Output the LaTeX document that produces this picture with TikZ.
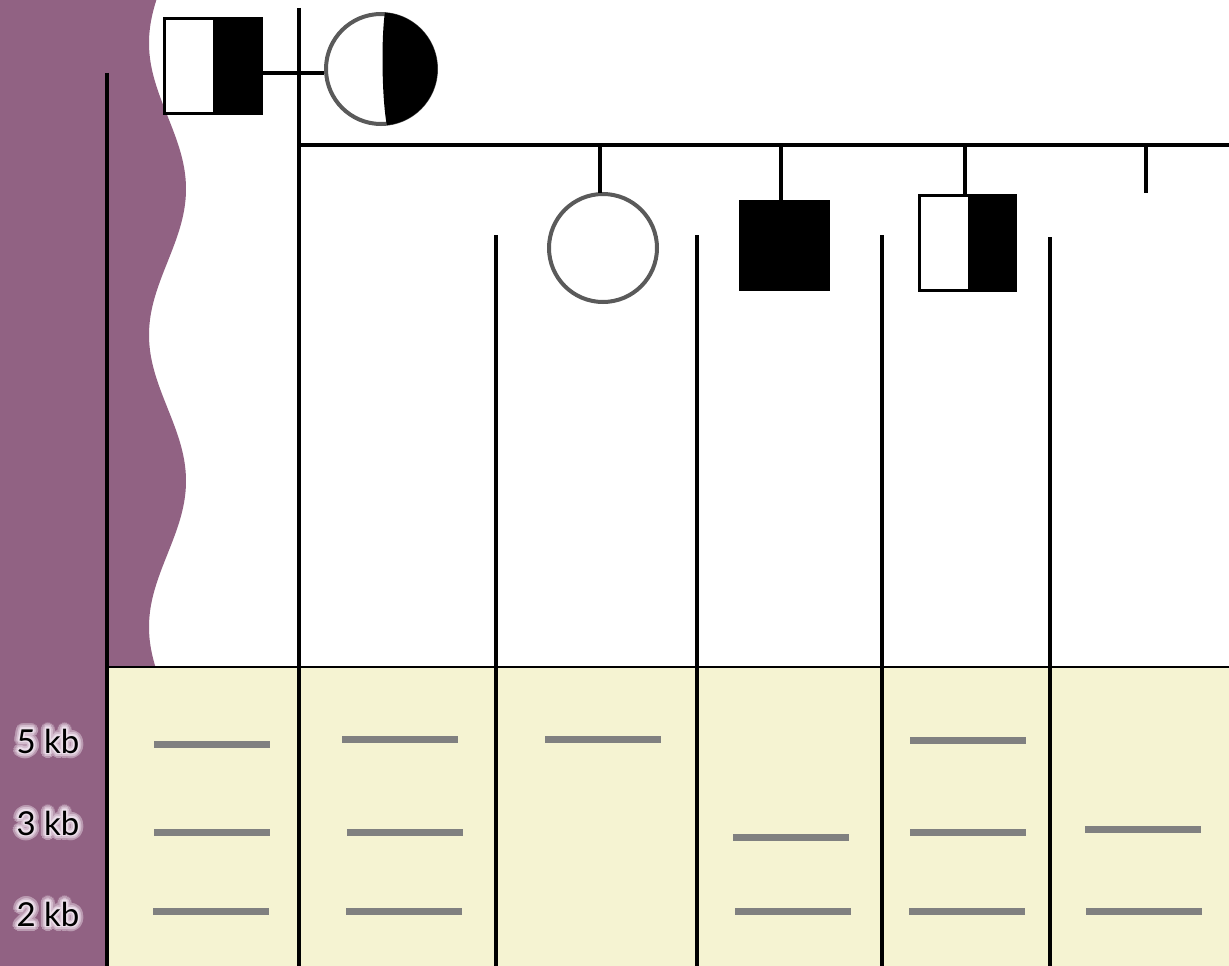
\documentclass[tikz,border=0pt]{standalone}
\usepackage{fontspec}
\setmainfont{Lato}
\definecolor{plum}{RGB}{145,98,131}
\definecolor{gel}{RGB}{245,243,210}
\definecolor{band}{RGB}{128,128,128}
\definecolor{ring}{RGB}{90,90,90}
\definecolor{halo}{RGB}{236,222,234}
\colorlet{haloA}{halo!45!plum}
\colorlet{haloB}{halo!75!plum}
\tikzset{
  lane/.style={line width=4pt,black},
  ped/.style={line width=3.5pt,black},
  bandline/.style={line width=7pt,band},
  femring/.style={circle,draw=ring,line width=4pt,fill=white,inner sep=0pt},
  malebox/.style={rectangle,draw=black,line width=2pt,fill=white,inner sep=0pt},
  kblabel/.style={font=\fontsize{33}{33}\selectfont,inner sep=0pt}
}
\newcommand{\haloring}[3]{%
  \foreach \a in {0,#2,...,359}{%
    \pgfmathsetmacro{\hdx}{#1*cos(\a)}\pgfmathsetmacro{\hdy}{#1*sin(\a)}%
    \rlap{\hspace*{\hdx pt}\raisebox{\hdy pt}{\textcolor{#3}{\kbcur}}}}}
\newcommand{\kbtext}[1]{%
  \def\kbcur{#1}%
  \haloring{5.5}{20}{haloA}\haloring{3.5}{30}{haloB}\haloring{1.8}{45}{halo}%
  \textcolor{black}{#1}}
\begin{document}
\begin{tikzpicture}[x=1pt,y=1pt]
\useasboundingbox (0,0) rectangle (1229,-966);
% background purple with wavy edge
\fill[plum] (0,0) -- plot[domain=0:667,samples=150,smooth] ({167.5+18.5*cos((\x-189)/292*360)},-\x) -- (107,-667) -- (107,-966) -- (0,-966) -- cycle;
% gel
\fill[gel] (107,-667) rectangle (1229,-966);
\draw[line width=2.5pt] (107,-667) -- (1229,-667);
% lane dividers
\draw[lane] (107,-73) -- (107,-966);
\draw[lane] (299,-8) -- (299,-966);
\draw[lane] (496,-235) -- (496,-966);
\draw[lane] (697,-235) -- (697,-966);
\draw[lane] (882,-235) -- (882,-966);
\draw[lane] (1050,-237) -- (1050,-966);
% parents
\node[malebox,minimum width=96pt,minimum height=94pt] (father) at (213,-66) {};
\fill[black] (father.north) rectangle (father.south east);
\draw[line width=2pt] (father.north west) rectangle (father.south east);
\node[femring,minimum size=110pt] (mother) at (381,-69) {};
\fill[black] (384.9,-12.6) arc[start angle=86,end angle=-84,radius=56.5] .. controls (382,-100) and (381,-40) .. cycle;
\coordinate (mline) at (0,-73);
\draw[ped] (father.east |- mline) -- (mother.west |- mline);
% sibship
\coordinate (sibL) at (299,-145);
\coordinate (sibR) at (1229,-145);
\draw[ped] (sibL) -- (sibR);
% children
\node[femring,minimum size=108pt] (c1) at (603,-248) {};
\node[rectangle,fill=black,draw=black,line width=1pt,minimum size=90pt,inner sep=0pt] (c2) at (784,-245) {};
\node[malebox,minimum width=95pt,minimum height=94pt] (c3) at (967.5,-243) {};
\fill[black] (c3.north) rectangle (c3.south east);
\draw[line width=2pt] (c3.north west) rectangle (c3.south east);
\coordinate (c4) at (1146,-193);
\draw[ped] (600,-145) -- (600,-193);
\draw[ped] (781,-145) -- (c2.north -| 781,0);
\draw[ped] (965,-145) -- (c3.north -| 965,0);
\draw[ped] (c4 |- sibL) -- (c4);
% bands lane 1
\draw[bandline] (154,-744) -- (270,-744);
\draw[bandline] (154,-832) -- (270,-832);
\draw[bandline] (153,-911) -- (269,-911);
% lane 2
\draw[bandline] (342,-739) -- (458,-739);
\draw[bandline] (347,-832) -- (463,-832);
\draw[bandline] (346,-911) -- (462,-911);
% lane 3
\draw[bandline] (545,-739) -- (661,-739);
% lane 4
\draw[bandline] (733,-837) -- (849,-837);
\draw[bandline] (735,-911) -- (851,-911);
% lane 5
\draw[bandline] (910,-740) -- (1026,-740);
\draw[bandline] (910,-832) -- (1026,-832);
\draw[bandline] (909,-911) -- (1025,-911);
% lane 6
\draw[bandline] (1085,-829) -- (1201,-829);
\draw[bandline] (1086,-911) -- (1202,-911);
% size labels
\node[kblabel] (k5) at (48,-741) {\kbtext{5 kb}};
\node[kblabel] (k3) at (48,-823) {\kbtext{3 kb}};
\node[kblabel] (k2) at (48,-914) {\kbtext{2 kb}};
\end{tikzpicture}
\end{document}
